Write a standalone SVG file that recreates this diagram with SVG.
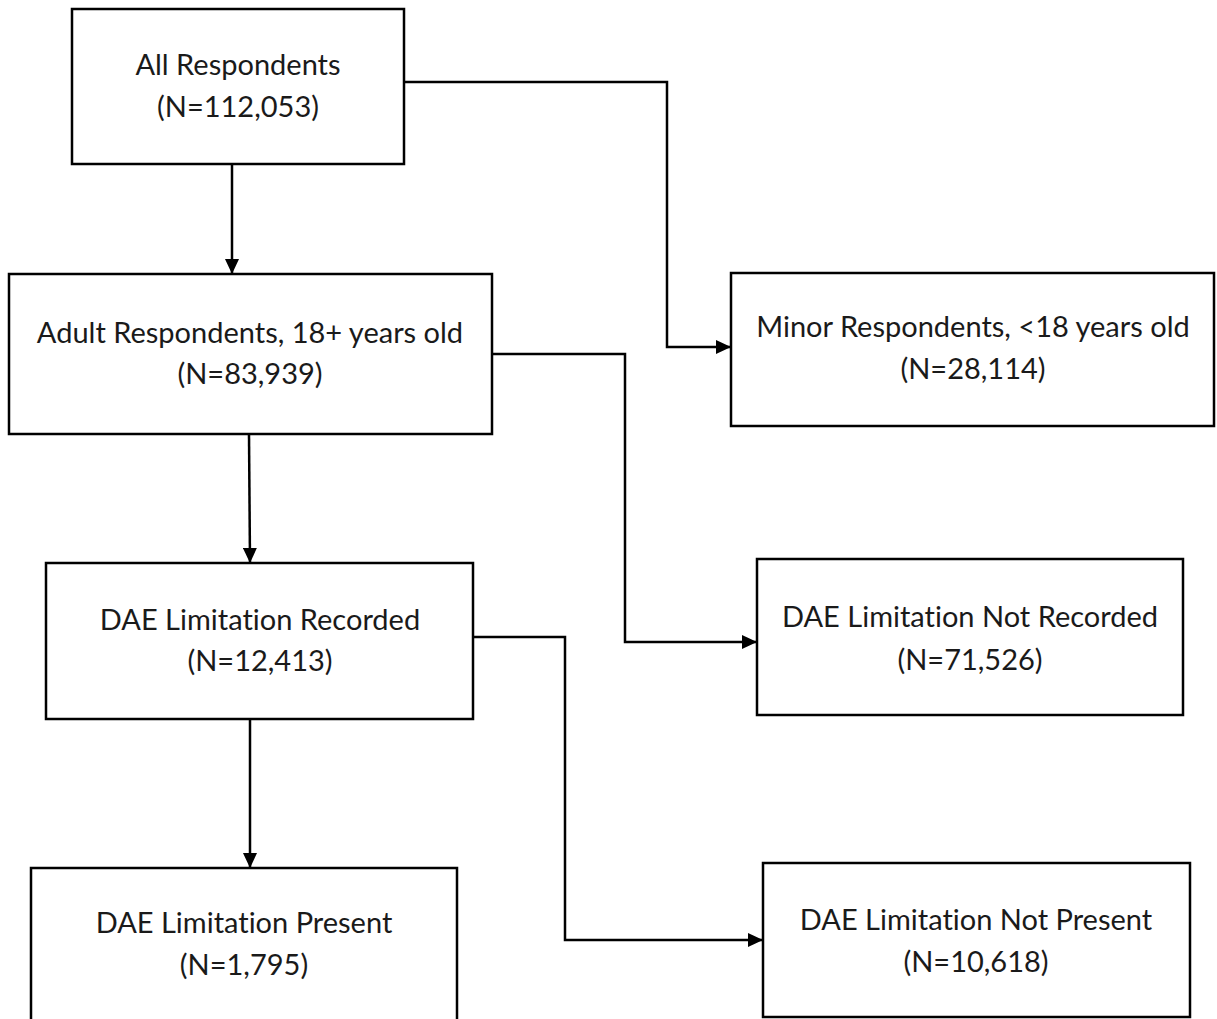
<svg xmlns="http://www.w3.org/2000/svg" width="1217" height="1019" viewBox="0 0 1217 1019">
  <style>
    .box { fill: #ffffff; stroke: #000000; stroke-width: 2.5; }
    .lbl { font-family: "Lato", "Liberation Sans", sans-serif; font-size: 29px; fill: #1a1a1a; text-anchor: middle; font-variant-ligatures: none; }
    .conn { fill: none; stroke: #000000; stroke-width: 2.5; }
  </style>
  <defs>
    <marker id="arrow" viewBox="0 0 15 14" refX="15" refY="7" markerWidth="15" markerHeight="14" markerUnits="userSpaceOnUse" orient="auto">
      <path d="M0,0 L15,7 L0,14 z" fill="#000000"/>
    </marker>
  </defs>
  <rect width="1217" height="1019" fill="#ffffff"/>

  <g id="connectors">
    <path class="conn" d="M232,164 L232,274" marker-end="url(#arrow)"/>
    <path class="conn" d="M404,82 L667,82 L667,347 L731,347" marker-end="url(#arrow)"/>
    <path class="conn" d="M492,354 L625,354 L625,642 L757,642" marker-end="url(#arrow)"/>
    <path class="conn" d="M249,434 L250,563" marker-end="url(#arrow)"/>
    <path class="conn" d="M474,637 L565,637 L565,940 L763,940" marker-end="url(#arrow)"/>
    <path class="conn" d="M250,719 L250,868" marker-end="url(#arrow)"/>
  </g>

  <g id="all-respondents">
    <rect class="box" x="72" y="9" width="332" height="155"/>
    <text class="lbl" x="238" y="75">All Respondents</text>
    <text class="lbl" x="238" y="117">(N=112,053)</text>
  </g>

  <g id="adult-respondents">
    <rect class="box" x="9" y="274" width="483" height="160"/>
    <text class="lbl" x="250" y="343">Adult Respondents, 18+ years old</text>
    <text class="lbl" x="250" y="384">(N=83,939)</text>
  </g>

  <g id="minor-respondents">
    <rect class="box" x="731" y="273" width="483" height="153"/>
    <text class="lbl" x="973" y="337">Minor Respondents, &lt;18 years old</text>
    <text class="lbl" x="973" y="379">(N=28,114)</text>
  </g>

  <g id="dae-recorded">
    <rect class="box" x="46" y="563" width="427" height="156"/>
    <text class="lbl" x="260" y="630">DAE Limitation Recorded</text>
    <text class="lbl" x="260" y="671">(N=12,413)</text>
  </g>

  <g id="dae-not-recorded">
    <rect class="box" x="757" y="559" width="426" height="156"/>
    <text class="lbl" x="970" y="627">DAE Limitation Not Recorded</text>
    <text class="lbl" x="970" y="670">(N=71,526)</text>
  </g>

  <g id="dae-present">
    <rect class="box" x="31" y="868" width="426" height="170"/>
    <text class="lbl" x="244" y="933">DAE Limitation Present</text>
    <text class="lbl" x="244" y="975">(N=1,795)</text>
  </g>

  <g id="dae-not-present">
    <rect class="box" x="763" y="863" width="427" height="154"/>
    <text class="lbl" x="976" y="930">DAE Limitation Not Present</text>
    <text class="lbl" x="976" y="972">(N=10,618)</text>
  </g>
</svg>
